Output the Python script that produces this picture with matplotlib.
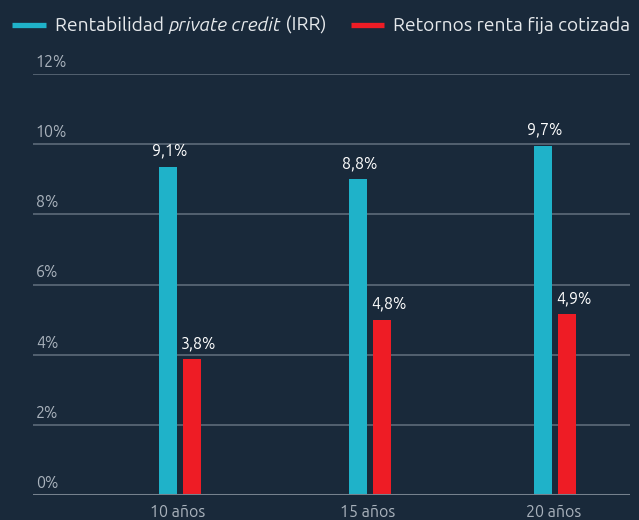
import matplotlib
matplotlib.use("Agg")
import matplotlib.pyplot as plt
import numpy as np

# datos
categorias = ["10 años", "15 años", "20 años"]
private_credit = [9.35, 9.0, 9.95]
renta_fija = [3.87, 5.0, 5.15]
etiq_private = ["9,1%", "8,8%", "9,7%"]
etiq_renta = ["3,8%", "4,8%", "4,9%"]
yticks = [0, 2, 4, 6, 8, 10, 12]

FONDO = "#19293a"
TEAL = "#1fb2c9"
ROJO = "#ee1c25"
GRIS = "#a9b2bc"

plt.rcParams['font.family'] = ['Ubuntu', 'Barlow Semi Condensed', 'Lato', 'DejaVu Sans']
plt.rcParams['font.weight'] = 300

fig = plt.figure(figsize=(6.39, 5.2), dpi=100, facecolor=FONDO)
ax = fig.add_axes([33/639, 25/520, (630-33)/639, (495-74)/520])
ax.set_facecolor(FONDO)

x = np.array([0, 1.013, 2.0])
ancho = 0.096
desp = 0.062

b1 = ax.bar(x - desp, private_credit, ancho, color=TEAL, zorder=3)
b2 = ax.bar(x + desp, renta_fija, ancho, color=ROJO, zorder=3)

for barras, etiquetas, dx in ((b1, etiq_private, 1), (b2, etiq_renta, 5)):
    for b, t in zip(barras, etiquetas):
        ax.annotate(t, (b.get_x() + b.get_width()/2, b.get_height()),
                    xytext=(dx, 6), textcoords="offset points",
                    ha="center", va="bottom", color="white", fontsize=11.5)

ax.set_ylim(0, 12)
ax.set_xlim(-0.784, 2.4)

for v in yticks:
    if v == 0:
        ax.axhline(v, color="#76818d", lw=2.2, zorder=4)
    else:
        ax.axhline(v, color="#5d6b79", lw=1.2, zorder=1)
    ax.annotate(f"{v}%", (0, v), xycoords=("axes fraction", "data"),
                xytext=(2, 3), textcoords="offset points",
                ha="left", va="bottom", color=GRIS, fontsize=11.5)

ax.set_xticks(x - 0.01)
ax.set_xticklabels(categorias, color=GRIS, fontsize=11.5)
ax.tick_params(axis="x", length=0, pad=6)
ax.set_yticks([])
for s in ax.spines.values():
    s.set_visible(False)

# leyenda hecha a mano (texto con partes en cursiva)
fig.canvas.draw()
r = fig.canvas.get_renderer()
fy = 1 - 25/520
def linea(x0, x1, color):
    fig.add_artist(plt.Line2D([x0/639, x1/639], [fy, fy], color=color, lw=3.8,
                              solid_capstyle="butt"))

def texto(x0, partes):
    xx = x0
    for t, estilo in partes:
        tt = fig.text(xx/639, fy, t, color="#e6e9ec", fontsize=13.8, style=estilo,
                      va="center", ha="left")
        w = tt.get_window_extent(renderer=r).width
        xx += w

linea(12, 46, TEAL)
texto(55, [("Rentabilidad ", "normal"), ("private credit", "italic"), (" (IRR)", "normal")])
linea(351, 384, ROJO)
texto(393, [("Retornos renta fija cotizada", "normal")])

fig.savefig("out.png", dpi=100, facecolor=FONDO)
